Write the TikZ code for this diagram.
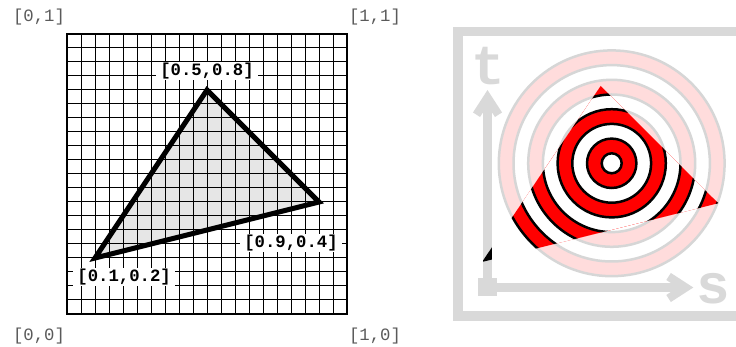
\documentclass[tikz,border=0pt]{standalone}
\usepackage{fontspec}
\setmonofont{Liberation Mono}
\usetikzlibrary{arrows.meta,positioning}
\definecolor{fadered}{RGB}{255,220,220}
\definecolor{fadeline}{RGB}{214,214,214}
\definecolor{axisgray}{RGB}{217,217,217}
\definecolor{labelgray}{RGB}{90,90,90}
\definecolor{trifill}{RGB}{230,230,230}

% 靶环纹理: #1 红色, #2 线色
\newcommand{\rings}[2]{%
  \foreach \k in {7,...,0}{%
    \pgfmathsetmacro{\rr}{10+14.7*\k}%
    \ifodd\k \def\ringfill{#1}\else\def\ringfill{white}\fi
    \filldraw[fill=\ringfill, draw=#2, line width=2.5] (ctr) circle (\rr);
  }}

\begin{document}
\begin{tikzpicture}[x=1pt, y=1pt, line join=miter,
    lbl/.style={font=\ttfamily\bfseries\fontsize{17.3}{18}\selectfont, fill=white, inner xsep=4pt, inner ysep=1pt},
    corner/.style={font=\ttfamily\fontsize{17.3}{18}\selectfont, text=labelgray},
    axislbl/.style={font=\ttfamily\bfseries\fontsize{56}{60}\selectfont, text=axisgray},
    axis/.style={axisgray, line width=8.4, -{Straight Barb[length=17pt,width=22pt]}}]
    \useasboundingbox (0,0) rectangle (736,347);
    \clip (0,0) rectangle (736,347);

    % 左: 网格与三角形
    \begin{scope}[shift={(67,33)}, x=280pt, y=280pt]
        \coordinate (a) at (0.1,0.2);
        \coordinate (b) at (0.5,0.8);
        \coordinate (c) at (0.9,0.4);
        \fill[trifill] (a) -- (b) -- (c) -- cycle;
        \draw[line width=1, step=0.05] (0,0) grid (1,1);
        \draw[line width=2] (0,0) rectangle (1,1);
        \draw[line width=5] (a) -- (b) -- (c) -- cycle;

        % 顶点标注
        \node[lbl] (lb) at (0.5,0.868) {[0.5,0.8]};
        \node[lbl] (lc) at (0.8,0.253) {[0.9,0.4]};
        \node[lbl] (la) at (0.204,0.132) {[0.1,0.2]};

        % 角点标注
        \node[corner] (c01) at (-0.1,1.06) {[0,1]};
        \node[corner] (c11) at (1.1,1.06) {[1,1]};
        \node[corner] (c00) at (-0.1,-0.078) {[0,0]};
        \node[corner] (c10) at (1.1,-0.078) {[1,0]};
    \end{scope}

    % 右: 纹理空间
    \coordinate (ctr) at (611.7,183.7);
    \coordinate (o) at (487.5,59.5);
    \coordinate (t) at (487.5,257);
    \coordinate (s) at (693.3,59.5);
    \coordinate (p) at (482,85);
    \coordinate (q) at (600.7,261);
    \coordinate (r) at (718.3,143.7);

    % 纹理边框 (右边在画面外)
    \draw[axisgray, line width=9.5] (800,31) -- (458,31) -- (458,315.3) -- (800,315.3);
    \rings{fadered}{fadeline}

    % 坐标轴
    \draw[axis] (o) -- (t);
    \draw[axis] (o) -- (s);
    \fill[axisgray] (478.3,51) rectangle (496.7,68.7);
    \node[axislbl] (tl) at (488,281) {t};
    \node[axislbl] (sl) at (713,58) {s};

    % 三角形内的纹理
    \begin{scope}
        \clip (p) -- (q) -- (r) -- cycle;
        \fill[white] (p) -- (q) -- (r) -- cycle;
        \rings{red}{black}
        \fill[black] (483.3,59.5) rectangle (491.7,257);
    \end{scope}
\end{tikzpicture}
\end{document}
